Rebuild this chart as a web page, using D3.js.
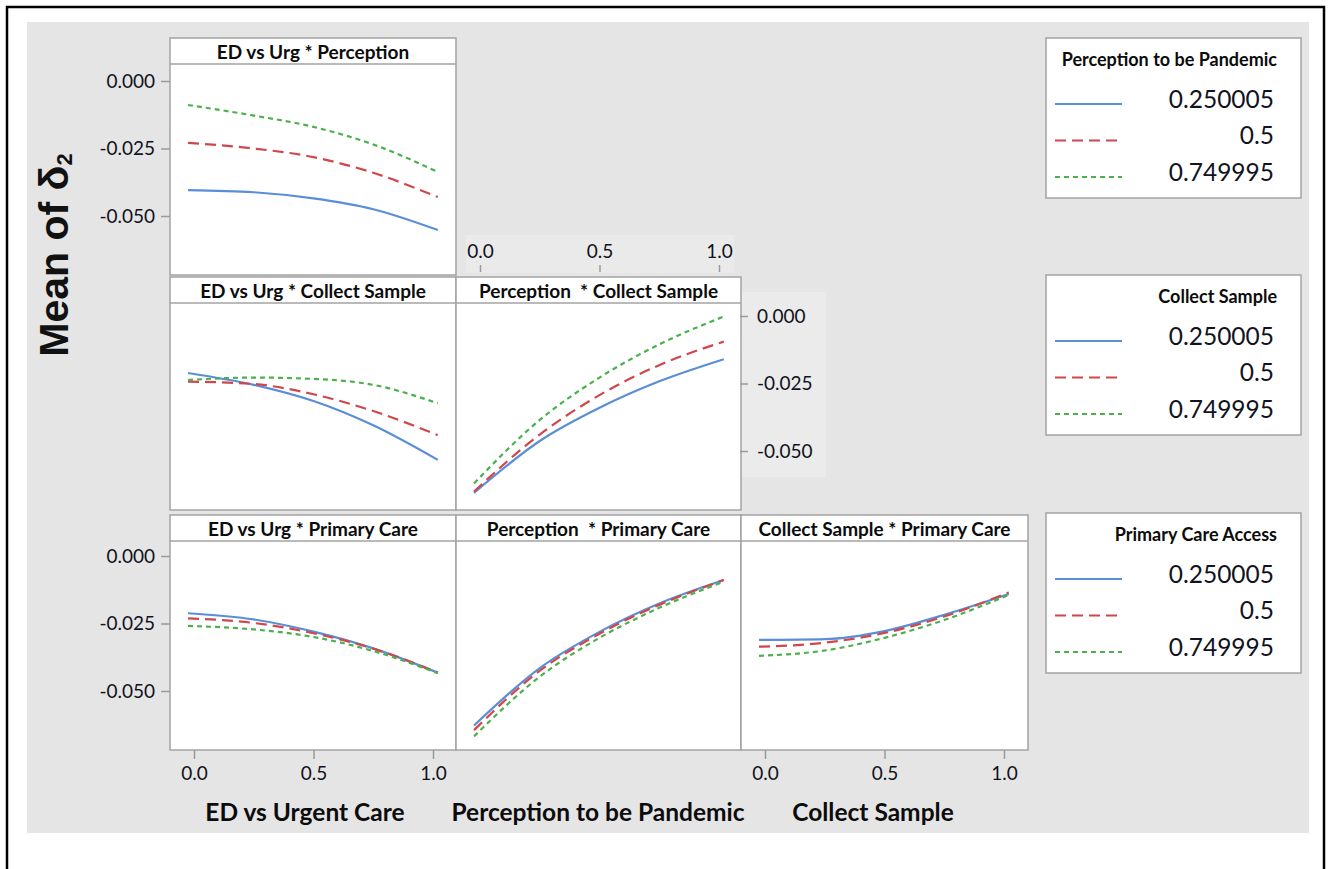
<!DOCTYPE html>
<meta charset="utf-8">
<style>
    body { margin: 0; background: #fff; }
    text { font-family: Lato, "Open Sans", sans-serif; fill: #121220; }
    .ptitle, .ltitle, .atitle { font-weight: bold; fill: #0c0c0c; white-space: pre; }
    .tick text { font-size: 19px; }
    .tick line { stroke: #9a9a9a; stroke-width: 1.5px; }
    .curve { fill: none; stroke-width: 2.2px; }
</style>
<svg width="1329" height="869"></svg>
<script src="https://cdn.jsdelivr.net/npm/d3@7"></script>
<script>

    // x positions of the fitted points (coded factor levels, 0..1)
    var xs = [-0.025, 0.25, 0.5, 0.75, 1.02];
    var xTicks = [0, 0.5, 1];
    var yTicks = [0, -0.025, -0.05];
    var levels = ["0.250005", "0.5", "0.749995"];

    // each panel: [low, mid, high] level of the second factor
    var edPerception = [
        [-0.0404, -0.0412, -0.0435, -0.0475, -0.0552],
        [-0.0229, -0.0250, -0.0282, -0.0340, -0.0430],
        [-0.0089, -0.0128, -0.0170, -0.0235, -0.0337]
    ];
    var edCollect = [
        [-0.0211, -0.0255, -0.0315, -0.0405, -0.0533],
        [-0.0243, -0.0252, -0.0290, -0.0352, -0.0441],
        [-0.0237, -0.0228, -0.0233, -0.0255, -0.0323]
    ];
    var perceptionCollect = [
        [-0.0655, -0.0463, -0.0340, -0.0242, -0.0160],
        [-0.0650, -0.0439, -0.0293, -0.0182, -0.0095],
        [-0.0620, -0.0385, -0.0228, -0.0105, -0.0002]
    ];
    var edPrimary = [
        [-0.0212, -0.0235, -0.0280, -0.0342, -0.0432],
        [-0.0231, -0.0248, -0.0286, -0.0343, -0.0432],
        [-0.0259, -0.0272, -0.0300, -0.0352, -0.0434]
    ];
    var perceptionPrimary = [
        [-0.0628, -0.0415, -0.0281, -0.0176, -0.0089],
        [-0.0645, -0.0425, -0.0288, -0.0181, -0.0089],
        [-0.0668, -0.0447, -0.0303, -0.0192, -0.0095]
    ];
    var collectPrimary = [
        [-0.0311, -0.0308, -0.0278, -0.0218, -0.0141],
        [-0.0336, -0.0321, -0.0285, -0.0224, -0.0135],
        [-0.0370, -0.0350, -0.0303, -0.0237, -0.0144]
    ];

    var panelTitles = ["ED vs Urg * Perception", "ED vs Urg * Collect Sample", "Perception  * Collect Sample",
        "ED vs Urg * Primary Care", "Perception  * Primary Care", "Collect Sample * Primary Care"];
    var legendTitles = ["Perception to be Pandemic", "Collect Sample", "Primary Care Access"];
    var axisTitles = ["ED vs Urgent Care", "Perception to be Pandemic", "Collect Sample"];

    // layout
    var colX = [170, 456, 741, 1028];
    var titleTop = [38, 277, 515];
    var plotTop = [64, 303, 541];
    var plotBottom = [275, 510, 750];
    var zeroY = [81, 316, 556];

    var colors = ["#5a8ed8", "#d0474b", "#4cb04c"];
    var dashes = [null, "11,6", "5,4"];

    var svg = d3.select("svg");

    svg.append("rect").attr("x", 27).attr("y", 22).attr("width", 1282).attr("height", 811).attr("fill", "#e5e5e5");
    // faint lighter boxes behind the floating axes
    svg.append("rect").attr("x", 466).attr("y", 235).attr("width", 268).attr("height", 38).attr("fill", "#eaeaea");
    svg.append("rect").attr("x", 740).attr("y", 292).attr("width", 86).attr("height", 185).attr("fill", "#ebebeb");

    var fmt = function (d) { return d3.format(".3f")(d).replace("\u2212", "-"); };

    function xScale(c) {
        return d3.scaleLinear().domain([0, 1]).range([colX[c] + 24, colX[c] + 263]);
    }
    function yScale(r) {
        return d3.scaleLinear().domain([0, -0.05]).range([zeroY[r], zeroY[r] + 135]);
    }

    var panels = [
        {r: 0, c: 0, data: edPerception},
        {r: 1, c: 0, data: edCollect},
        {r: 1, c: 1, data: perceptionCollect},
        {r: 2, c: 0, data: edPrimary},
        {r: 2, c: 1, data: perceptionPrimary},
        {r: 2, c: 2, data: collectPrimary}
    ];

    panels.forEach(function (p, i) {
        var x0 = colX[p.c], x1 = colX[p.c + 1];
        var g = svg.append("g");
        g.append("rect").attr("x", x0).attr("y", titleTop[p.r]).attr("width", x1 - x0)
            .attr("height", plotBottom[p.r] - titleTop[p.r]).attr("fill", "#fff")
            .attr("stroke", "#a3a3a3").attr("stroke-width", 1.5);
        g.append("line").attr("x1", x0).attr("x2", x1).attr("y1", plotTop[p.r]).attr("y2", plotTop[p.r])
            .attr("stroke", "#a3a3a3").attr("stroke-width", 1.5);
        g.append("text").attr("class", "ptitle").attr("x", (x0 + x1) / 2).attr("y", titleTop[p.r] + 20.5)
            .attr("text-anchor", "middle").style("font-size", "19px").text(panelTitles[i]);

        var x = xScale(p.c), y = yScale(p.r);
        var line = d3.line().x(function (d, k) { return x(xs[k]); }).y(function (d) { return y(d); })
            .curve(d3.curveMonotoneX);
        p.data.forEach(function (s, k) {
            g.append("path").attr("class", "curve").attr("d", line(s))
                .attr("stroke", colors[k]).attr("stroke-dasharray", dashes[k]);
        });
    });

    // axes
    function clean(sel) { sel.select(".domain").remove(); }
    [0, 2].forEach(function (r) {
        svg.append("g").attr("transform", "translate(170,0)")
            .call(d3.axisLeft(yScale(r)).tickValues(yTicks).tickFormat(fmt).tickSize(9).tickPadding(6))
            .call(clean);
    });
    svg.append("g").attr("transform", "translate(740,0)")
        .call(d3.axisRight(yScale(1)).tickValues(yTicks).tickFormat(fmt).tickSize(8).tickPadding(9))
        .call(clean);
    [0, 2].forEach(function (c) {
        svg.append("g").attr("transform", "translate(0,750)")
            .call(d3.axisBottom(xScale(c)).tickValues(xTicks).tickFormat(d3.format(".1f")).tickSize(9).tickPadding(8))
            .call(clean);
    });
    svg.append("g").attr("transform", "translate(0,272)")
        .call(d3.axisTop(xScale(1)).tickValues(xTicks).tickFormat(d3.format(".1f")).tickSize(7).tickPadding(7))
        .call(clean);
    svg.selectAll(".tick text").attr("font-family", null);

    // axis titles
    var axisTitleX = [305, 598, 873];
    axisTitles.forEach(function (t, i) {
        svg.append("text").attr("class", "atitle").attr("x", axisTitleX[i]).attr("y", 821)
            .attr("text-anchor", "middle").style("font-size", "24.5px").text(t);
    });

    var yl = svg.append("text").attr("transform", "translate(68,255) rotate(-90)")
        .attr("text-anchor", "middle")
        .style("font-family", "'Liberation Sans', Arial, sans-serif").style("font-weight", "bold")
        .style("font-size", "41px").style("fill", "#111");
    yl.append("tspan").text("Mean of \u03b4");
    yl.append("tspan").attr("dy", 4).style("font-size", "22px").text("2");

    // legends
    var legendTop = [38, 275, 513];
    legendTitles.forEach(function (t, i) {
        var top = legendTop[i];
        var g = svg.append("g");
        g.append("rect").attr("x", 1046).attr("y", top).attr("width", 255).attr("height", 160)
            .attr("fill", "#fff").attr("stroke", "#a3a3a3").attr("stroke-width", 1.5);
        g.append("text").attr("class", "ltitle").attr("x", 1277).attr("y", top + 28)
            .attr("text-anchor", "end").style("font-size", "18px").text(t);
        levels.forEach(function (lv, k) {
            var cy = top + 61 + k * 36.5;
            g.append("line").attr("x1", 1055).attr("x2", 1122).attr("y1", cy + 5).attr("y2", cy + 5)
                .attr("stroke", colors[k]).attr("stroke-width", 2.2).attr("stroke-dasharray", dashes[k]);
            g.append("text").attr("x", 1274).attr("y", cy + 8.5).attr("text-anchor", "end")
                .style("font-size", "24.5px").text(lv);
        });
    });

    // outer frame
    svg.append("rect").attr("x", 7).attr("y", 7).attr("width", 1317).attr("height", 880)
        .attr("fill", "none").attr("stroke", "#000").attr("stroke-width", 2.5);

</script>
